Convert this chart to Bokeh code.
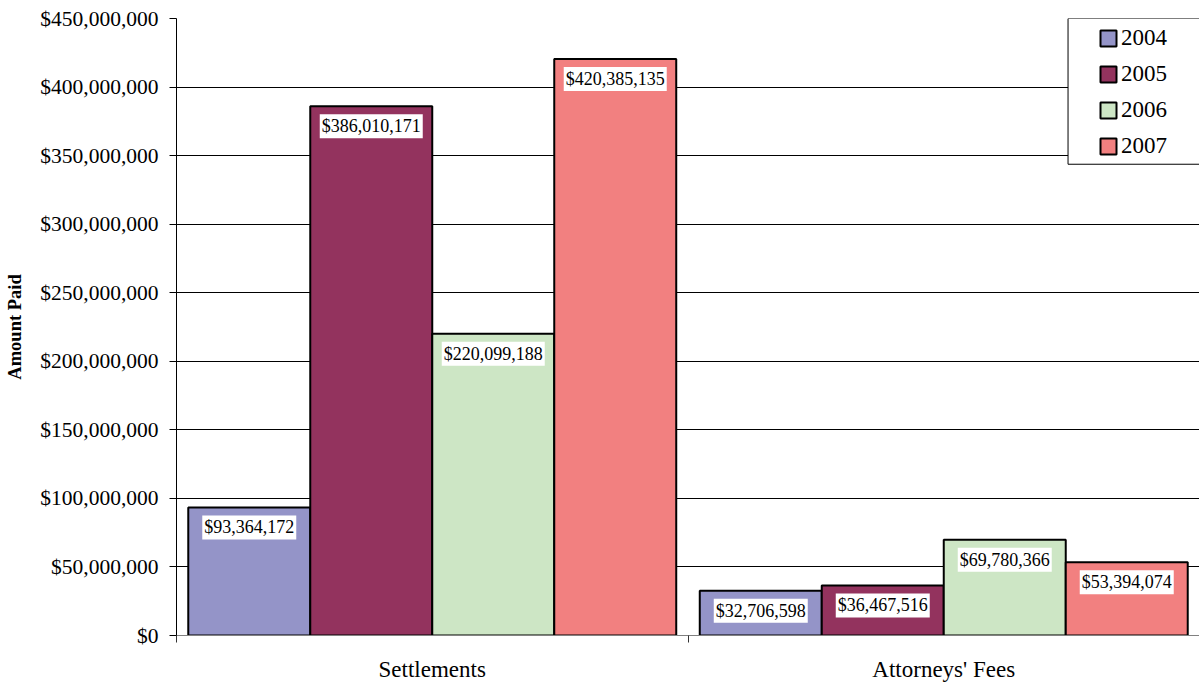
from bokeh.plotting import figure
from bokeh.models import (ColumnDataSource, Range1d, LinearAxis, FixedTicker,
                          SingleIntervalTicker, NumeralTickFormatter, LabelSet,
                          Legend, LegendItem, BoxAnnotation)
from bokeh.transform import dodge
from bokeh.embed import file_html
from bokeh.resources import INLINE

# ---- data ----
categories = ["Settlements", "Attorneys' Fees"]
years = ["2004", "2005", "2006", "2007"]
values_2004 = [93364172, 32706598]
values_2005 = [386010171, 36467516]
values_2006 = [220099188, 69780366]
values_2007 = [420385135, 53394074]
series = [values_2004, values_2005, values_2006, values_2007]
colors = ["#9494C8", "#93335E", "#CDE6C5", "#F28080"]

FONT = "Liberation Serif"

cat_x = [i + 0.5 for i in range(len(categories))]
data = {"x": cat_x, "cat": categories}
for yr, vals in zip(years, series):
    data["v" + yr] = vals
    data["t" + yr] = ["${:,}".format(v) for v in vals]
src = ColumnDataSource(data)

p = figure(width=1199, height=684, output_backend="svg", toolbar_location=None,
           x_range=Range1d(0, len(categories)), y_range=Range1d(0, 450_000_000),
           x_axis_location=None, y_axis_location=None,
           min_border_left=176, min_border_right=0, min_border_top=18,
           min_border_bottom=48)
p.outline_line_color = None
p.background_fill_color = "white"
p.border_fill_color = "white"

# y axis
yaxis = LinearAxis(ticker=SingleIntervalTicker(interval=50_000_000, num_minor_ticks=0),
                   formatter=NumeralTickFormatter(format="$0,0"))
yaxis.axis_label = "Amount Paid"
yaxis.axis_label_text_font = FONT
yaxis.axis_label_text_font_style = "bold"
yaxis.axis_label_text_font_size = "18.5px"
yaxis.axis_label_text_color = "black"
yaxis.axis_label_standoff = 12
yaxis.major_label_text_font = FONT
yaxis.major_label_text_font_size = "21.5px"
yaxis.major_label_text_color = "black"
yaxis.major_label_standoff = 11
yaxis.major_tick_out = 7
yaxis.major_tick_in = 0
yaxis.minor_tick_out = 0
yaxis.axis_line_color = "black"
yaxis.major_tick_line_color = "black"
p.add_layout(yaxis, "left")

# x axis: category names at centres, separator ticks between categories
xaxis = LinearAxis(ticker=FixedTicker(ticks=cat_x,
                                      minor_ticks=list(range(len(categories) + 1))))
xaxis.major_label_overrides = {x: c for x, c in zip(cat_x, categories)}
xaxis.axis_line_color = "#808080"
xaxis.major_tick_out = 0
xaxis.major_tick_in = 0
xaxis.minor_tick_out = 7
xaxis.minor_tick_in = 0
xaxis.minor_tick_line_color = "#333333"
xaxis.major_label_text_font = FONT
xaxis.major_label_text_font_size = "23px"
xaxis.major_label_text_color = "black"
xaxis.major_label_standoff = 14
p.add_layout(xaxis, "below")

p.ygrid.grid_line_color = "black"
p.ygrid.grid_line_width = 1
p.ygrid.ticker = yaxis.ticker
p.xgrid.grid_line_color = None

n = len(years)
w = 0.2385
renderers = []
for k, (yr, col) in enumerate(zip(years, colors)):
    off = (k - (n - 1) / 2) * w
    r = p.vbar(x=dodge("x", off, range=p.x_range), top="v" + yr, width=w,
               source=src, fill_color=col, line_color="black", line_width=2)
    renderers.append(r)
    labels = LabelSet(x=dodge("x", off, range=p.x_range), y="v" + yr, text="t" + yr,
                      source=src, text_align="center", text_baseline="middle",
                      y_offset=-20, text_font=FONT, text_font_size="18px",
                      text_color="black", background_fill_color="white",
                      border_line_color="white", border_line_width=4,
                      border_line_join="miter")
    p.add_layout(labels)

# legend frame
box = BoxAnnotation(left=1.743, right=2.1, top=450_000_000, bottom=343_700_000,
                    fill_color="white", fill_alpha=1.0, line_color="black",
                    line_alpha=1.0, line_width=1)
p.add_layout(box)

legend = Legend(items=[LegendItem(label=yr, renderers=[r]) for yr, r in zip(years, renderers)],
                location="top_right", margin=7, padding=0, border_line_color=None,
                background_fill_alpha=0, glyph_width=20, glyph_height=20,
                label_width=71, label_standoff=3, spacing=10, label_height=26,
                label_text_font=FONT, label_text_font_size="23px",
                label_text_color="black")
p.add_layout(legend)

open("out.html", "w").write(file_html(p, INLINE))
